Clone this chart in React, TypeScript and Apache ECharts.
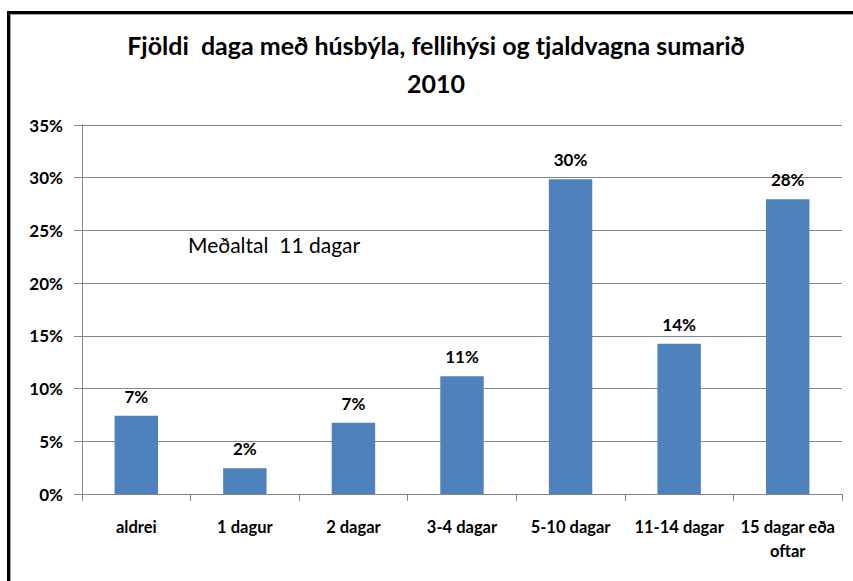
import React, { useEffect, useRef } from "react";
import * as echarts from "echarts";

const categories = ["aldrei", "1 dagur", "2 dagar", "3-4 dagar", "5-10 dagar", "11-14 dagar", "15 dagar eða\noftar"];
const values = [7.43, 2.44, 6.76, 11.16, 29.85, 14.26, 27.95];
const titleLines = ["Fjöldi  daga með húsbýla, fellihýsi og tjaldvagna sumarið", "2010"];
const note = "Meðaltal  11 dagar";

const FONT = "Lato, 'Open Sans', sans-serif";

export default function App() {
  const ref = useRef<HTMLDivElement>(null);
  useEffect(() => {
    if (!ref.current) return;
    const chart = echarts.init(ref.current, null, { renderer: "svg" });
    chart.setOption({
      animation: false,
      backgroundColor: "#ffffff",
      textStyle: { fontFamily: FONT },
      grid: { left: 82, right: 11, top: 125, bottom: 87, containLabel: false },
      xAxis: {
        type: "category",
        data: categories,
        axisLine: { show: true, lineStyle: { color: "#868686", width: 1 } },
        axisTick: { show: true, length: 7, alignWithLabel: false, lineStyle: { color: "#868686" } },
        axisLabel: {
          color: "#000",
          fontWeight: "bold",
          fontSize: 16.5,
          fontFamily: FONT,
          margin: 21,
          lineHeight: 24,
          interval: 0,
        },
      },
      yAxis: {
        type: "value",
        min: 0,
        max: 35,
        interval: 5,
        axisLine: { show: true, lineStyle: { color: "#868686", width: 1 } },
        axisTick: { show: true, length: 8, lineStyle: { color: "#868686" } },
        axisLabel: {
          color: "#000",
          fontWeight: "bold",
          fontSize: 17,
          fontFamily: FONT,
          margin: 19,
          formatter: (v: number) => `${v}%`,
        },
        splitLine: { show: true, lineStyle: { color: "#868686", width: 1 } },
      },
      series: [
        {
          type: "bar",
          data: values,
          barWidth: "40%",
          itemStyle: { color: "#4F81BD" },
          label: {
            show: true,
            position: "top",
            distance: 11,
            color: "#000",
            fontWeight: "bold",
            fontSize: 17,
            fontFamily: FONT,
            formatter: (p: any) => `${Math.round(p.value)}%`,
          },
        },
      ],
      graphic: [
        { type: "line", shape: { x1: 8.5, y1: 12, x2: 8.5, y2: 581 }, style: { stroke: "#000", lineWidth: 3 } },
        { type: "line", shape: { x1: 7, y1: 12.5, x2: 853, y2: 12.5 }, style: { stroke: "#000", lineWidth: 3 } },
        { type: "line", shape: { x1: 10.5, y1: 14, x2: 10.5, y2: 581 }, style: { stroke: "#a0a0a0", lineWidth: 1 } },
        { type: "line", shape: { x1: 10, y1: 14.5, x2: 853, y2: 14.5 }, style: { stroke: "#a0a0a0", lineWidth: 1 } },
        {
          type: "text",
          x: 436,
          y: 45,
          style: {
            text: titleLines[0],
            textAlign: "center",
            textVerticalAlign: "middle",
            fontSize: 25,
            fontWeight: "bold",
            fontFamily: FONT,
            fill: "#000",
          },
        },
        {
          type: "text",
          x: 436,
          y: 83,
          style: {
            text: titleLines[1],
            textAlign: "center",
            textVerticalAlign: "middle",
            fontSize: 25,
            fontWeight: "bold",
            fontFamily: FONT,
            fill: "#000",
          },
        },
        {
          type: "text",
          x: 188,
          y: 244,
          style: {
            text: note,
            textAlign: "left",
            textVerticalAlign: "middle",
            fontSize: 21,
            fontWeight: "normal",
            fontFamily: FONT,
            fill: "#000",
          },
        },
      ],
    });
    return () => chart.dispose();
  }, []);
  return <div ref={ref} style={{ position: "fixed", left: 0, top: 0, width: 853, height: 581 }} />;
}
